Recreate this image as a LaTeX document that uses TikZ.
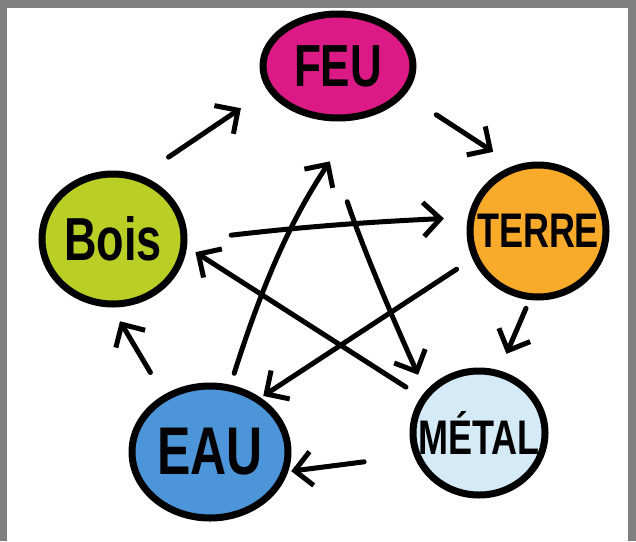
\documentclass[tikz,border=0pt]{standalone}
\usepackage{fontspec}
\setmainfont{Liberation Sans}
\usetikzlibrary{shapes.geometric,arrows.meta}
\definecolor{framegray}{HTML}{808080}
\definecolor{feu}{HTML}{DC1A86}
\definecolor{terre}{HTML}{F8AA2A}
\definecolor{metal}{HTML}{D4EAF7}
\definecolor{eau}{HTML}{4C95D8}
\definecolor{bois}{HTML}{B9CF25}
\newcommand{\tall}[1]{\scalebox{1}[1.35]{#1}}
\begin{document}
\begin{tikzpicture}[x=1pt,y=-1pt,
  element/.style={ellipse,draw=black,line width=7pt,inner sep=0pt},
  arrow/.style={line width=5pt,line cap=round,-{Straight Barb[length=17pt,width=34pt]}}]
% frame
\useasboundingbox (0,0) rectangle (636,541);
\fill[framegray] (0,0) rectangle (636,541);
\fill[white] (7,8) rectangle (628,541);
% elements
\node[element,fill=feu,minimum width=150pt,minimum height=104pt,
      label={[font=\fontsize{44}{44}\selectfont\bfseries]center:\tall{FEU}}]   (FEU)   at (338,66)  {};
\node[element,fill=terre,minimum width=136pt,minimum height=132pt,
      label={[font=\fontsize{36}{36}\selectfont\bfseries]center:\tall{TERRE}}] (TERRE) at (538,231) {};
\node[element,fill=metal,minimum width=132pt,minimum height=124pt,
      label={[font=\fontsize{36}{36}\selectfont\bfseries]center:\tall{MÉTAL}}] (METAL) at (479,433) {};
\node[element,fill=eau,minimum width=156pt,minimum height=132pt,
      label={[font=\fontsize{50}{50}\selectfont\bfseries]center:\tall{EAU}}]   (EAU)   at (210,452) {};
\node[element,fill=bois,minimum width=142pt,minimum height=130pt,
      label={[font=\fontsize{45}{45}\selectfont\bfseries]center:\tall{Bois}}]  (BOIS)  at (113,239) {};
% outer cycle
\draw[arrow,shorten <=33pt,shorten >=32pt] (BOIS.66)   -- (FEU.199);
\draw[arrow,shorten <=37pt,shorten >=25pt] (FEU.337)   -- (TERRE.110);
\draw[arrow,shorten <=9pt, shorten >=18pt] (TERRE.263) -- (METAL.72);
\draw[arrow,shorten <=50pt,shorten >=3pt]  (METAL.199) -- (EAU.346);
\draw[arrow,shorten <=26pt,shorten >=16pt] (EAU.129)   -- (BOIS.269);
% star
\draw[arrow,shorten <=44pt,shorten >=24pt] (BOIS.359)  to[bend left=2]  (TERRE.169);
\draw[arrow,shorten <=19pt,shorten >=3pt]  (TERRE.203) -- (EAU.47);
\draw[arrow,shorten <=12pt,shorten >=50pt] (EAU.73)    to[bend left=8]  (FEU.290);
\draw[arrow,shorten <=86pt,shorten >=18pt] (FEU.252)   to[bend right=3] (METAL.142);
\draw[arrow,shorten <=18pt,shorten >=10pt] (METAL.148) -- (BOIS.354);
\end{tikzpicture}
\end{document}
